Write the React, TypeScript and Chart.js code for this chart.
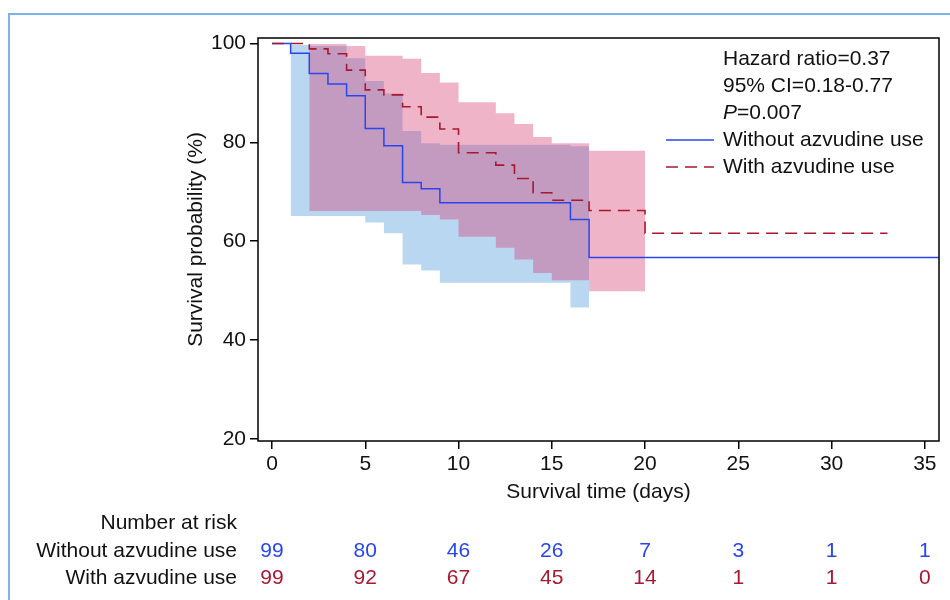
import React, { useEffect, useRef } from "react";
import { Chart, registerables } from "chart.js";

Chart.register(...registerables);

// ---- data ----
const withoutTimes = [0, 1, 2, 3, 4, 5, 6, 7, 8, 9, 16, 17, 36];
const withoutSurv = [100, 98, 93.9, 91.8, 89.4, 82.8, 79.3, 71.9, 70.6, 67.8, 64.4, 56.7, 56.7];

const withTimes = [0, 2, 3, 4, 5, 6, 7, 8, 9, 10, 12, 13, 14, 15, 17, 20, 33];
const withSurv = [100, 98.9, 97.9, 94.6, 90.6, 89.6, 87.2, 85.1, 82.7, 77.9, 75.4, 72.7, 69.8, 68.3, 66.2, 61.6, 61.6];

const withoutCITimes = [1, 2, 4, 5, 6, 7, 8, 9, 16, 17];
const withoutUpper = [99.7, 99.5, 97.0, 92.4, 89.9, 82.3, 79.8, 79.5, 79.2, 79.2];
const withoutLower = [65.1, 65.1, 65.1, 63.8, 61.6, 55.3, 54.1, 51.6, 46.6, 46.6];

const withCITimes = [2, 4, 5, 7, 8, 9, 10, 12, 13, 14, 15, 17, 20];
const withUpper = [99.9, 99.5, 97.5, 96.9, 94.0, 92.1, 88.1, 85.9, 83.7, 81.1, 79.8, 78.3, 78.3];
const withLower = [66.1, 66.1, 66.1, 66.1, 65.3, 64.4, 60.9, 58.7, 56.3, 53.6, 52.1, 49.9, 49.9];

const riskTimes = [0, 5, 10, 15, 20, 25, 30, 35];
const riskWithout = [99, 80, 46, 26, 7, 3, 1, 1];
const riskWith = [99, 92, 67, 45, 14, 1, 1, 0];

const groupLabels = ["Without azvudine use", "With azvudine use"];
const statLines = ["Hazard ratio=0.37", "95% CI=0.18-0.77"];
const pLabel = ["P", "=0.007"];
const riskTitle = "Number at risk";
const xTitle = "Survival time (days)";
const yTitle = "Survival probability (%)";

// ---- styles ----
const FONT = '"Liberation Sans", Arial, Helvetica, sans-serif';
const FS = 21;
const BLUE = "#2846ee";
const RED = "#a8182f";
const BLUE_BAND = "rgb(186,215,242)";
const PINK_BAND = "rgba(214,52,106,0.37)";
const RED_DASH = [12, 7];

const pts = (xs: number[], ys: number[]) => xs.map((x, i) => ({ x, y: ys[i] }));

const overlay = {
  id: "overlay",
  afterDraw(chart: any) {
    const { ctx, chartArea: a, scales } = chart;
    const x = scales.x;
    ctx.save();
    ctx.strokeStyle = "#000";
    ctx.lineWidth = 1.5;
    ctx.setLineDash([]);
    ctx.strokeRect(a.left, a.top, a.right - a.left, a.bottom - a.top);

    ctx.font = `${FS}px ${FONT}`;
    ctx.fillStyle = "#111";
    ctx.textBaseline = "middle";
    ctx.textAlign = "left";
    const tx = a.right - 216;
    const ty0 = a.top + 21;
    const dy = 27;
    statLines.forEach((s, i) => ctx.fillText(s, tx, ty0 + i * dy));
    ctx.font = `italic ${FS}px ${FONT}`;
    ctx.fillText(pLabel[0], tx, ty0 + 2 * dy);
    const pw = ctx.measureText(pLabel[0]).width;
    ctx.font = `${FS}px ${FONT}`;
    ctx.fillText(pLabel[1], tx + pw, ty0 + 2 * dy);
    ctx.fillText(groupLabels[0], tx, ty0 + 3 * dy);
    ctx.fillText(groupLabels[1], tx, ty0 + 4 * dy);

    ctx.lineWidth = 1.5;
    ctx.strokeStyle = BLUE;
    ctx.beginPath();
    ctx.moveTo(tx - 57, ty0 + 3 * dy);
    ctx.lineTo(tx - 9, ty0 + 3 * dy);
    ctx.stroke();
    ctx.strokeStyle = RED;
    ctx.setLineDash(RED_DASH);
    ctx.beginPath();
    ctx.moveTo(tx - 57, ty0 + 4 * dy);
    ctx.lineTo(tx - 9, ty0 + 4 * dy);
    ctx.stroke();
    ctx.setLineDash([]);

    const labelRight = a.left - 21;
    ctx.textAlign = "right";
    ctx.fillStyle = "#111";
    ctx.fillText(riskTitle, labelRight, 523);
    ctx.fillText(groupLabels[0], labelRight, 551);
    ctx.fillText(groupLabels[1], labelRight, 578);
    ctx.textAlign = "center";
    riskTimes.forEach((t, i) => {
      const px = x.getPixelForValue(t);
      ctx.fillStyle = BLUE;
      ctx.fillText(String(riskWithout[i]), px, 551);
      ctx.fillStyle = RED;
      ctx.fillText(String(riskWith[i]), px, 578);
    });
    ctx.restore();
  },
};

export default function App() {
  const ref = useRef<HTMLCanvasElement | null>(null);

  useEffect(() => {
    if (!ref.current) return;
    const band = {
      borderWidth: 0,
      pointRadius: 0,
      stepped: "before" as const,
    };
    const chart = new Chart(ref.current, {
      type: "line",
      data: {
        datasets: [
          {
            ...band,
            label: "without upper",
            data: pts(withoutCITimes, withoutUpper),
            backgroundColor: BLUE_BAND,
            borderColor: BLUE_BAND,
            fill: "+1",
            order: 10,
          },
          {
            ...band,
            label: "without lower",
            data: pts(withoutCITimes, withoutLower),
            borderColor: BLUE_BAND,
            fill: false,
            order: 10,
          },
          {
            ...band,
            label: "with upper",
            data: pts(withCITimes, withUpper),
            backgroundColor: PINK_BAND,
            borderColor: "rgba(0,0,0,0)",
            fill: "+1",
            order: 9,
          },
          {
            ...band,
            label: "with lower",
            data: pts(withCITimes, withLower),
            borderColor: "rgba(0,0,0,0)",
            fill: false,
            order: 9,
          },
          {
            label: groupLabels[0],
            data: pts(withoutTimes, withoutSurv),
            borderColor: BLUE,
            borderWidth: 1.5,
            pointRadius: 0,
            stepped: "before",
            fill: false,
            order: 2,
          },
          {
            label: groupLabels[1],
            data: pts(withTimes, withSurv),
            borderColor: RED,
            borderWidth: 1.6,
            borderDash: RED_DASH,
            pointRadius: 0,
            stepped: "before",
            fill: false,
            order: 1,
          },
        ],
      },
      options: {
        animation: false,
        responsive: false,
        maintainAspectRatio: false,
        layout: { padding: { left: 0, top: 38, right: 11, bottom: 0 } },
        plugins: {
          legend: { display: false },
          tooltip: { enabled: false },
          title: { display: false },
        },
        scales: {
          x: {
            type: "linear",
            min: -0.75,
            max: 35.76,
            afterFit: (s: any) => {
              s.height = 159;
            },
            border: { display: false },
            grid: {
              drawOnChartArea: false,
              drawTicks: true,
              tickLength: 8,
              color: "#000",
              lineWidth: 1.5,
            },
            ticks: {
              stepSize: 5,
              includeBounds: false,
              autoSkip: false,
              maxRotation: 0,
              color: "#111",
              padding: 3,
              font: { size: FS, family: FONT },
            },
            title: {
              display: true,
              text: xTitle,
              color: "#111",
              font: { size: FS, family: FONT },
              padding: { top: 0, bottom: 95 },
            },
          },
          y: {
            type: "linear",
            min: 19.6,
            max: 101.1,
            afterFit: (s: any) => {
              s.width = 258;
            },
            border: { display: false },
            grid: {
              drawOnChartArea: false,
              drawTicks: true,
              tickLength: 8,
              color: "#000",
              lineWidth: 1.5,
            },
            ticks: {
              stepSize: 20,
              includeBounds: false,
              color: "#111",
              padding: 4,
              font: { size: FS, family: FONT },
            },
            title: {
              display: true,
              text: yTitle,
              color: "#111",
              font: { size: FS, family: FONT },
              padding: { top: 184, bottom: 0 },
            },
          },
        },
      },
      plugins: [overlay],
    });
    return () => chart.destroy();
  }, []);

  return (
    <div style={{ position: "fixed", left: 0, top: 0, width: 950, height: 600, background: "#fff" }}>
      <canvas ref={ref} width={950} height={600} style={{ display: "block" }} />
      <div
        style={{
          position: "absolute",
          left: 8,
          top: 13,
          width: 942,
          height: 587,
          boxSizing: "border-box",
          borderLeft: "2px solid #7fb2ea",
          borderTop: "2px solid #7fb2ea",
          pointerEvents: "none",
        }}
      />
    </div>
  );
}
